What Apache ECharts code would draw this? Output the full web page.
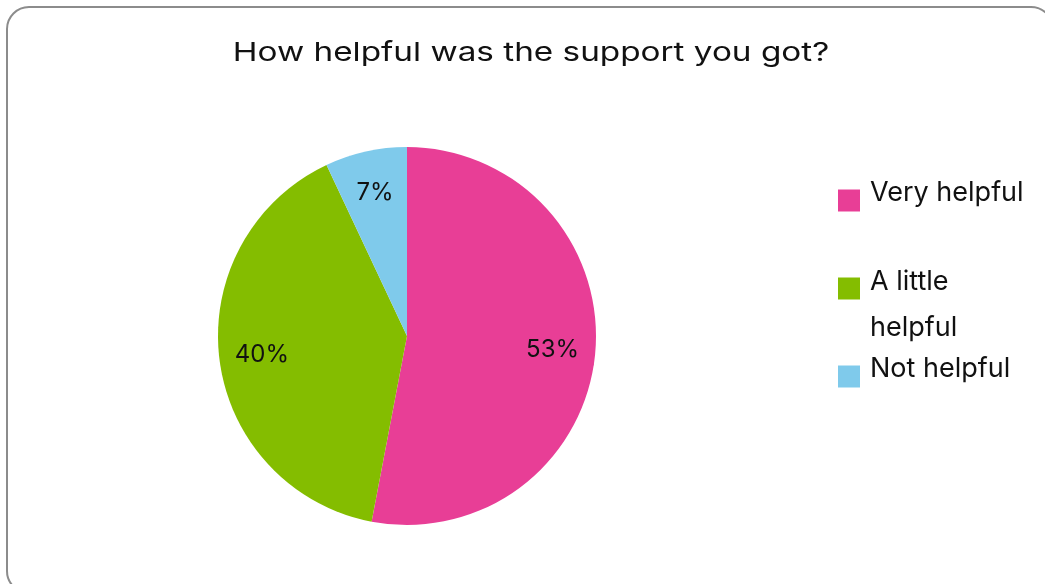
<!DOCTYPE html>
<html>
<head>
<meta charset="utf-8">
<script src="https://cdn.jsdelivr.net/npm/echarts@6/dist/echarts.min.js"></script>
<style>
  html, body { margin: 0; padding: 0; background: #ffffff; }
  #chart { width: 1045px; height: 584px; }
</style>
</head>
<body>
<div id="chart"></div>
<script>
// Survey answers: share of respondents per answer (percent)
const titleText = 'How helpful was the support you got?';
const answers = ['Very helpful', 'A little helpful', 'Not helpful'];
const shares = [53, 40, 7];
const legendLines = [['Very helpful'], ['A little', 'helpful'], ['Not helpful']];
const sliceColors = ['#E83E96', '#84BD00', '#7FCAEB'];

const FONT = 'Inter, "Noto Sans", sans-serif';
const CX = 407, CY = 336, R = 189;
// top edge of each legend entry
const legendTops = [179, 241.5, 355];

const chart = echarts.init(document.getElementById('chart'), null, { renderer: 'canvas' });

// legend text: the words sit slightly above the swatch centre; a wrapped
// entry keeps its first line level with the swatch
function legendFormatter(name) {
  const lines = legendLines[answers.indexOf(name)].map(t => '{a|' + t + '}');
  if (lines.length > 1) return '{t| }\n' + lines.join('\n');
  return lines.join('\n') + '\n{s| }';
}

const legends = answers.map((name, i) => ({
  orient: 'vertical',
  left: 838,
  top: legendTops[i],
  padding: 0,
  itemWidth: 22,
  itemHeight: 22,
  icon: 'rect',
  selectedMode: false,
  data: [name],
  formatter: legendFormatter,
  textStyle: {
    fontFamily: FONT,
    fontSize: 27,
    color: '#111111',
    padding: [0, 0, 0, 5],
    rich: {
      a: { fontFamily: FONT, fontSize: 27, lineHeight: 46, color: '#111111' },
      s: { fontSize: 2, lineHeight: 16 },
      t: { fontSize: 2, lineHeight: 33 }
    }
  }
}));

chart.setOption({
  backgroundColor: '#ffffff',
  animation: false,
  graphic: [{
    type: 'rect',
    silent: true,
    shape: { x: 7, y: 7, width: 1046, height: 586, r: 22 },
    style: { fill: 'none', stroke: '#8c8c8c', lineWidth: 2 }
  }, {
    type: 'text',
    silent: true,
    x: 531,
    y: 53,
    scaleX: 1.28,
    style: {
      text: titleText,
      fill: '#111111',
      font: 'normal 26px ' + FONT,
      align: 'center',
      verticalAlign: 'middle'
    }
  }],
  legend: legends,
  series: [{
    type: 'pie',
    center: [CX, CY],
    radius: [0, R],
    startAngle: 90,
    clockwise: true,
    avoidLabelOverlap: false,
    itemStyle: { borderWidth: 0 },
    emphasis: { disabled: true },
    label: {
      show: true,
      position: 'inside',
      formatter: '{c}%',
      fontFamily: FONT,
      fontSize: 24,
      color: '#111111'
    },
    // push the inside labels further out along each slice's mid-angle
    labelLayout: function (p) {
      const lx = p.labelRect.x + p.labelRect.width / 2;
      const ly = p.labelRect.y + p.labelRect.height / 2;
      const k = 1.5;
      return {
        x: CX + (lx - CX) * k,
        y: CY + (ly - CY) * k,
        align: 'center',
        verticalAlign: 'middle'
      };
    },
    data: answers.map((name, i) => ({
      name: name,
      value: shares[i],
      itemStyle: { color: sliceColors[i] }
    }))
  }]
});
</script>
</body>
</html>
